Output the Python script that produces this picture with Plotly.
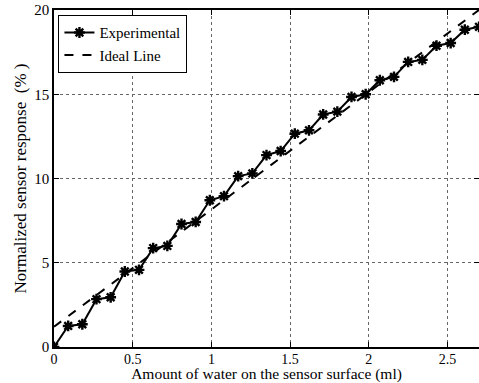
import plotly.graph_objects as go

water_ml = [0.00, 0.09, 0.18, 0.27, 0.36, 0.45, 0.54, 0.63, 0.72, 0.81, 0.90,
            0.99, 1.08, 1.17, 1.26, 1.35, 1.44, 1.53, 1.62, 1.71, 1.80, 1.89,
            1.98, 2.07, 2.16, 2.25, 2.34, 2.43, 2.52, 2.61, 2.70]
response_pct = [0.0, 1.25, 1.35, 2.84, 2.95, 4.48, 4.58, 5.87, 6.0, 7.3, 7.42,
                8.71, 8.95, 10.14, 10.3, 11.39, 11.63, 12.66, 12.86, 13.8, 13.97,
                14.84, 15.0, 15.83, 16.03, 16.92, 17.04, 17.88, 18.04, 18.83, 19.0]
ideal_x = [0.0, 2.7]
ideal_y = [1.2, 20.0]

x_ticks = [0, 0.5, 1, 1.5, 2, 2.5]
x_tick_labels = ["0", "0.5", "1", "1.5", "2", "2.5"]
y_ticks = [0, 5, 10, 15, 20]
y_tick_labels = ["0", "5", "10", "15", "20"]

font = "Liberation Serif"

fig = go.Figure()
fig.add_trace(go.Scatter(
    x=water_ml, y=response_pct, mode="lines+markers", name="Experimental",
    line=dict(color="black", width=2),
    marker=dict(symbol="asterisk-open", size=9, color="black",
                line=dict(color="black", width=2.4)),
))
fig.add_trace(go.Scatter(
    x=ideal_x, y=ideal_y, mode="lines", name="Ideal Line",
    line=dict(color="black", width=2, dash="dash"),
))

axis_common = dict(
    showline=True, linecolor="black", linewidth=1.5, mirror="ticks",
    ticks="inside", ticklen=5, tickcolor="black",
    showgrid=True, gridcolor="#666666", griddash="dot", gridwidth=1,
    zeroline=False, automargin=False,
)

fig.update_layout(
    width=479, height=383,
    margin=dict(l=54, r=0, t=10, b=36, autoexpand=False),
    paper_bgcolor="white", plot_bgcolor="white",
    font=dict(family=font, color="black"),
    showlegend=True,
    legend=dict(x=0.01, y=0.985, xanchor="left", yanchor="top",
                bordercolor="black", borderwidth=1.2, bgcolor="white",
                font=dict(family=font, size=15, color="black"),
                tracegroupgap=0, itemwidth=30),
)
fig.update_xaxes(range=[0, 2.7], tickvals=x_ticks, ticktext=x_tick_labels,
                 ticklabelstandoff=-2,
                 tickfont=dict(family=font, size=14, color="black"),
                 title=dict(text="Amount of water on the sensor surface (ml)",
                            font=dict(family=font, size=15.5, color="black"),
                            standoff=1),
                 **axis_common)
fig.update_yaxes(range=[0, 20], tickvals=y_ticks, ticktext=y_tick_labels,
                 tickfont=dict(family=font, size=15, color="black"),
                 title=dict(text="Normalized sensor response\u00a0\u00a0(%\u00a0)",
                            font=dict(family=font, size=17, color="black"),
                            standoff=3),
                 **axis_common)

fig.write_html("out.html", config={"displayModeBar": False},
               post_script="document.body.style.margin='0';")
